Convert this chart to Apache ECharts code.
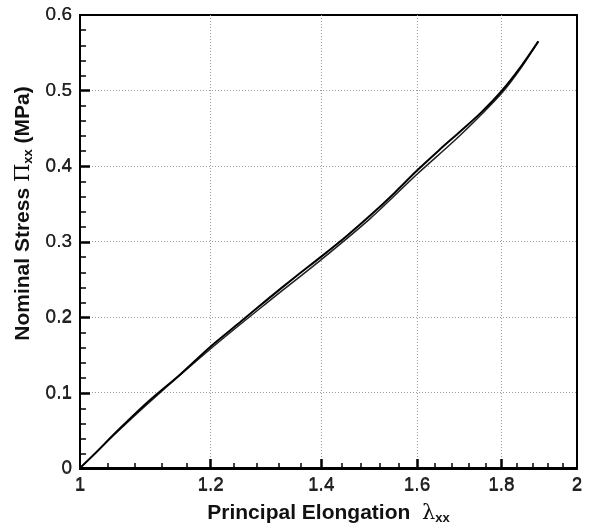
<!DOCTYPE html>
<html>
<head>
<meta charset="utf-8">
<script src="https://cdn.jsdelivr.net/npm/echarts@6/dist/echarts.min.js"></script>
<style>
  html, body { margin: 0; padding: 0; background: #fff; }
  #main { width: 591px; height: 530px; }
</style>
</head>
<body>
<div id="main"></div>
<script>
// principal elongation (log axis) vs nominal stress, loading and unloading
const stretchLoad = [1.00, 1.02, 1.05, 1.10, 1.15, 1.20, 1.25, 1.30, 1.35, 1.40, 1.45, 1.50, 1.55, 1.60, 1.65, 1.70, 1.75, 1.80, 1.85, 1.895];
const stressLoad  = [0.000, 0.018, 0.046, 0.088, 0.124, 0.161, 0.193, 0.224, 0.253, 0.280, 0.307, 0.335, 0.364, 0.394, 0.421, 0.446, 0.471, 0.499, 0.532, 0.565];
const stretchUnload = [1.00, 1.05, 1.10, 1.20, 1.30, 1.40, 1.50, 1.60, 1.70, 1.80, 1.85, 1.895];
const stressUnload  = [0.000, 0.045, 0.086, 0.158, 0.220, 0.276, 0.331, 0.389, 0.441, 0.496, 0.530, 0.565];

const xLabels = [1, 1.2, 1.4, 1.6, 1.8, 2];
const xMajor = [1.2, 1.4, 1.6, 1.8];
const xMinor = [1.04, 1.08, 1.12, 1.16, 1.24, 1.28, 1.32, 1.36, 1.44, 1.48, 1.52, 1.56,
                1.64, 1.68, 1.72, 1.76, 1.84, 1.88, 1.92, 1.96];
const yLabels = [0, 0.1, 0.2, 0.3, 0.4, 0.5, 0.6];
const yMajor = [0.1, 0.2, 0.3, 0.4, 0.5];
const yMinor = [0.02, 0.04, 0.06, 0.08, 0.12, 0.14, 0.16, 0.18, 0.22, 0.24, 0.26, 0.28,
                0.32, 0.34, 0.36, 0.38, 0.42, 0.44, 0.46, 0.48, 0.52, 0.54, 0.56, 0.58];

const pairs = (xs, ys) => xs.map((x, i) => [x, ys[i]]);

const font = 'Liberation Sans, Arial, sans-serif';
const titleRich = {
  t: { fontFamily: font, fontWeight: 'bold', fontSize: 21, color: '#111' },
  g: { fontFamily: 'DejaVu Serif, serif', fontWeight: 'normal', fontSize: 21, color: '#111' },
  s: { fontFamily: font, fontWeight: 'bold', fontSize: 13, color: '#111', padding: [10, 0, 0, 0] }
};
const box = { left: 80, right: 14, top: 15, bottom: 61 };
const xLabelStyle = { formatter: v => String(v), fontFamily: font, fontSize: 19, color: '#222', margin: 7 };
const yLabelStyle = { formatter: v => String(v), fontFamily: font, fontSize: 19, color: '#222', margin: 8 };
const blankLabel = { formatter: () => ' ', fontSize: 10, color: '#fff', margin: 30 };

// tick sets on overlaid grids without axis names; the major ones repeat the
// real labels on the same spots, the minor ones carry blank labels
const tickX = (grid, ticks, labels, labelStyle, len, width) => ({
  gridIndex: grid, type: 'log', min: 1, max: 2, position: 'bottom',
  axisLine: { show: true, lineStyle: { color: '#000', width: 2 } },
  axisTick: { show: true, inside: true, length: len, customValues: ticks, lineStyle: { color: '#000', width: width } },
  axisLabel: Object.assign({ show: true, customValues: labels }, labelStyle),
  splitLine: { show: false }
});
const tickY = (grid, ticks, labels, labelStyle, len, width) => ({
  gridIndex: grid, type: 'value', min: 0, max: 0.6, position: 'left',
  axisLine: { show: true, lineStyle: { color: '#000', width: 2 } },
  axisTick: { show: true, inside: true, length: len, customValues: ticks, lineStyle: { color: '#000', width: width } },
  axisLabel: Object.assign({ show: true, customValues: labels }, labelStyle),
  splitLine: { show: false }
});

const chart = echarts.init(document.getElementById('main'));
chart.setOption({
  animation: false,
  grid: [
    Object.assign({ show: true, borderColor: '#000', borderWidth: 2 }, box),
    Object.assign({}, box),
    Object.assign({}, box)
  ],
  xAxis: [{
    gridIndex: 0, type: 'log', min: 1, max: 2, position: 'bottom',
    name: '{t|Principal Elongation  }{g|λ}{s|xx}',
    nameLocation: 'middle', nameGap: 34,
    nameTextStyle: { rich: titleRich },
    axisLine: { show: true, lineStyle: { color: '#000', width: 2 } },
    axisTick: { show: false, customValues: xMajor },
    axisLabel: Object.assign({ customValues: xLabels }, xLabelStyle),
    splitLine: { show: true, lineStyle: { color: '#9a9a9a', type: [1, 2], width: 1 } }
  },
  tickX(1, xMajor, xLabels, xLabelStyle, 10, 2.5),
  tickX(2, xMinor, xMinor, blankLabel, 6, 1.5)],
  yAxis: [{
    gridIndex: 0, type: 'value', min: 0, max: 0.6, position: 'left',
    name: '{t|Nominal Stress }{g|Π}{s|xx}{t| (MPa)}',
    nameLocation: 'middle', nameGap: 43, nameRotate: 90,
    nameTextStyle: { rich: titleRich, padding: [0, 0, 0, 56] },
    axisLine: { show: true, lineStyle: { color: '#000', width: 2 } },
    axisTick: { show: false, customValues: yMajor },
    axisLabel: Object.assign({ customValues: yLabels }, yLabelStyle),
    splitLine: { show: true, lineStyle: { color: '#9a9a9a', type: [1, 2], width: 1 } }
  },
  tickY(1, yMajor, yLabels, yLabelStyle, 10, 2.5),
  tickY(2, yMinor, yMinor, blankLabel, 6, 1.5)],
  series: [{
    type: 'line', name: 'unloading', xAxisIndex: 0, yAxisIndex: 0,
    data: pairs(stretchUnload, stressUnload), smooth: 0.3, showSymbol: false,
    lineStyle: { color: '#222', width: 1.5 }
  }, {
    type: 'line', name: 'loading', xAxisIndex: 0, yAxisIndex: 0,
    data: pairs(stretchLoad, stressLoad), smooth: 0.3, showSymbol: false,
    lineStyle: { color: '#000', width: 2 }
  }]
});
</script>
</body>
</html>
